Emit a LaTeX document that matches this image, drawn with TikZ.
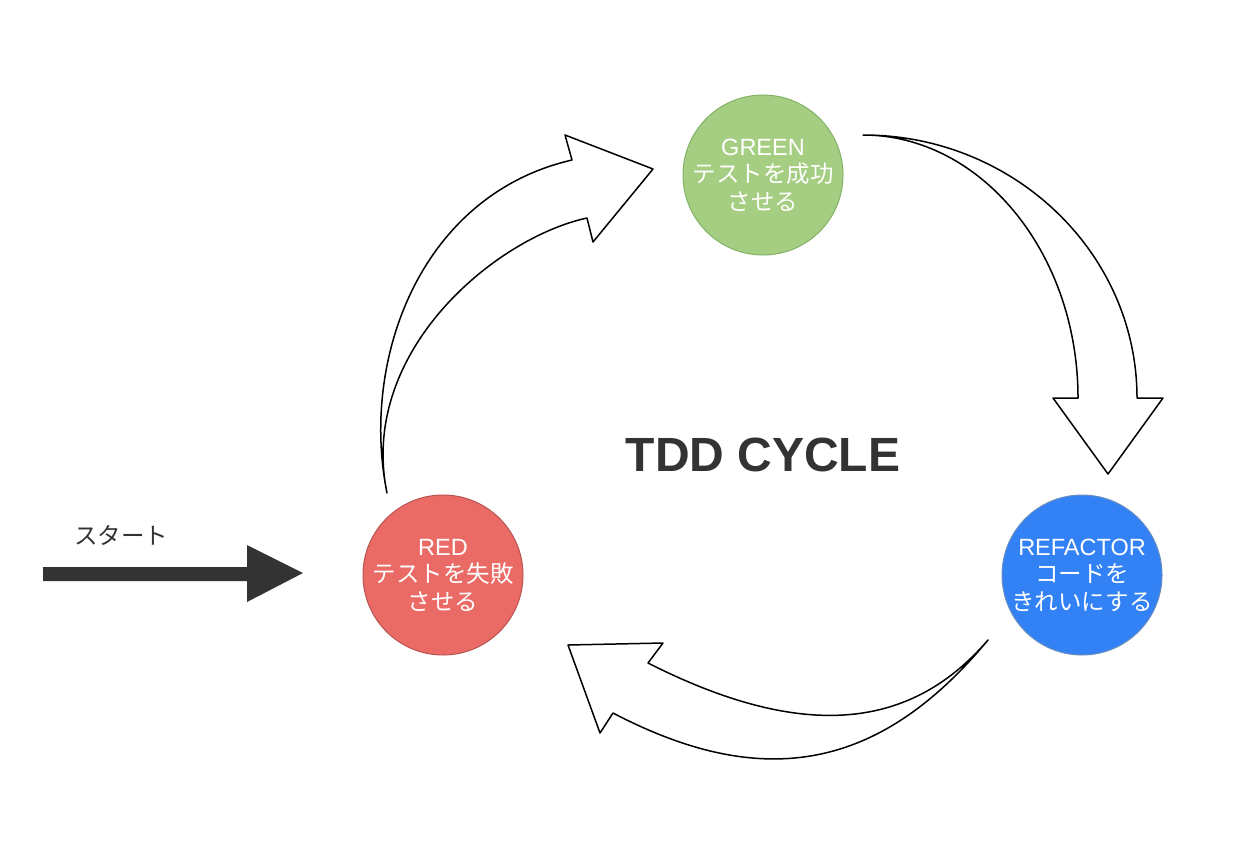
\documentclass[tikz,border=0pt]{standalone}
\usepackage{fontspec}
\setmainfont{Liberation Sans}
\newfontfamily\jp{Noto Sans CJK JP}
\definecolor{greenfill}{HTML}{A5CE82}
\definecolor{greenline}{HTML}{82B366}
\definecolor{redfill}{HTML}{EA6B66}
\definecolor{redline}{HTML}{B85450}
\definecolor{bluefill}{HTML}{3282F6}
\definecolor{blueline}{HTML}{6C8EBF}
\definecolor{dark}{HTML}{333333}
\begin{document}
\begin{tikzpicture}[x=1pt,y=-1pt,
  stage/.style={circle, minimum size=160pt, inner sep=0pt, line width=1pt},
  stagetext/.style={text=white, align=center, font=\fontsize{23.5}{27.5}\selectfont},
  blockarrow/.style={draw=black, line width=1.5pt, fill=white, line join=round}]
\useasboundingbox (0,0) rectangle (1246,846);
\fill[white] (0,0) rectangle (1246,846);

% curved block arrows
\coordinate (a1tail) at (387,493);
\draw[blockarrow] (a1tail) .. controls (360,360) and (420,195) .. (572,160)
  -- (565,135) -- (653,169) -- (593,242) -- (587,218)
  .. controls (495,238) and (358,352) .. (a1tail) -- cycle;

\coordinate (a2tail) at (863,135);
\draw[blockarrow] (a2tail) .. controls (1014,135) and (1137,253) .. (1137,398)
  -- (1163,398) -- (1108,474) -- (1053,398) -- (1078,398)
  .. controls (1078,253) and (981,135) .. (a2tail) -- cycle;

\coordinate (a3tail) at (988,640);
\draw[blockarrow] (a3tail) .. controls (909,732) and (800,740) .. (648,663)
  -- (663,643) -- (568,645) -- (600,733) -- (613,713)
  .. controls (764,792) and (880,770) .. (a3tail) -- cycle;

% stages
\node[stage, draw=greenline, fill=greenfill] (green) at (763,175) {};
\node[stagetext] (greentext) at (green) {GREEN\\{\jp テストを成功}\\{\jp させる}};

\node[stage, draw=redline, fill=redfill] (red) at (443,575) {};
\node[stagetext] (redtext) at (red) {RED\\{\jp テストを失敗}\\{\jp させる}};

\node[stage, draw=blueline, fill=bluefill] (refactor) at (1082,575) {};
\node[stagetext] (refactortext) at (refactor) {REFACTOR\\{\jp コードを}\\{\jp きれいにする}};

% title
\node[text=dark, font=\bfseries\fontsize{48}{56}\selectfont] (title) at (763,455) {TDD CYCLE};

% start arrow
\fill[dark] (43,567) -- (247,567) -- (247,545) -- (303,573) -- (247,602) -- (247,581) -- (43,581) -- cycle;
\node[text=dark, font=\jp\fontsize{23.5}{28}\selectfont] (start) at (121,535) {スタート};
\end{tikzpicture}
\end{document}
